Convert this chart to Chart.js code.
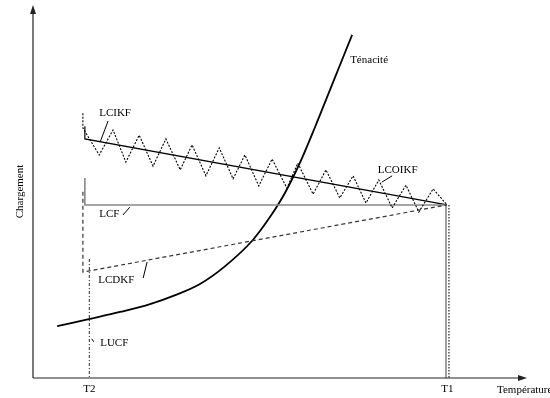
<!DOCTYPE html>
<html>
<head>
<meta charset="utf-8">
<script src="https://cdn.jsdelivr.net/npm/chart.js@4"></script>
<style>
  html, body { margin: 0; padding: 0; background: #fff; }
  #wrap { width: 550px; height: 398px; }
</style>
</head>
<body>
<div id="wrap"><canvas id="chart"></canvas></div>
<script>
// tick positions on the temperature axis
const tickValues = [11.4, 83.9];
const tickLabels = ['T2', 'T1'];

// Ténacité curve
const tenaciteX = [4.9, 11.3, 17.6, 23.7, 28.8, 33.8, 38.9, 44.5, 48.0, 51.0, 54.0, 57.1, 60.1, 64.6];
const tenaciteY = [13.9, 15.8, 17.7, 19.8, 22.2, 25.2, 30.0, 37.0, 43.2, 49.6, 57.6, 67.3, 77.2, 92.0];

// LCIKF (solid trend)
const lcikfX = [10.5, 10.5, 83.8];
const lcikfY = [67.5, 64.1, 46.4];

// LCOIKF (dotted zigzag)
const lcoikfX = [10.1, 10.1, 13.4, 16.2, 18.8, 21.5, 24.3, 26.9, 29.8, 32.2, 35.0, 37.7, 40.5, 42.9,
                 45.7, 48.4, 51.4, 53.6, 56.7, 59.3, 62.1, 64.8, 67.4, 70.0, 72.7, 75.5, 78.1, 81.0, 83.8];
const lcoikfY = [71.0, 67.0, 59.8, 66.5, 57.9, 65.1, 56.8, 64.1, 55.8, 62.5, 54.2, 61.7, 53.4, 59.8,
                 51.5, 58.7, 50.9, 57.6, 49.3, 55.8, 48.3, 54.2, 46.9, 53.1, 45.6, 51.7, 44.5, 50.7, 46.4];

// LCF (grey solid, drops at T1)
const lcfX = [10.5, 10.5, 83.6, 83.6];
const lcfY = [53.6, 46.4, 46.4, 0];

// LCDKF (dashed)
const lcdkfX = [10.1, 10.1, 83.8];
const lcdkfY = [49.9, 28.4, 46.4];

// dotted drop at T1
const dropX = [84.2, 84.2];
const dropY = [46.4, 0];

// LUCF (dash-dot at T2)
const lucfX = [11.4, 11.4];
const lucfY = [31.9, 0];

// text labels and their leader lines (data units)
const notes = [
  { text: 'LCIKF', x: 13.4, y: 70.2, from: [15.2, 68.9], to: [13.6, 63.3] },
  { text: 'LCOIKF', x: 69.8, y: 55.0, from: [72.7, 54.2], to: [70.6, 52.5] },
  { text: 'LCF', x: 13.4, y: 43.2, from: [18.2, 43.7], to: [19.6, 45.8] },
  { text: 'LCDKF', x: 13.2, y: 25.5, from: [22.3, 26.8], to: [23.1, 31.1] },
  { text: 'LUCF', x: 13.6, y: 8.6, from: [11.9, 10.5], to: [12.3, 9.7] },
  { text: 'Ténacité', x: 64.2, y: 84.5 }
];

const pts = (xs, ys) => xs.map((x, i) => ({ x: x, y: ys[i] }));
const FONT = '"Liberation Serif", "DejaVu Serif", serif';

const line = (label, xs, ys, color, width, dash, extra) => Object.assign({
  label: label,
  data: pts(xs, ys),
  borderColor: color,
  borderWidth: width,
  borderDash: dash,
  pointRadius: 0,
  fill: false,
  tension: 0
}, extra || {});

const decorations = {
  id: 'decorations',
  afterDatasetsDraw(chart) {
    const ctx = chart.ctx;
    const a = chart.chartArea;
    const xs = chart.scales.x, ys = chart.scales.y;
    ctx.save();
    // axes with arrows
    ctx.strokeStyle = '#222';
    ctx.fillStyle = '#222';
    ctx.lineWidth = 1.2;
    ctx.beginPath();
    ctx.moveTo(a.left, a.bottom);
    ctx.lineTo(a.left, a.top + 6);
    ctx.moveTo(a.left, a.bottom);
    ctx.lineTo(a.right - 6, a.bottom);
    ctx.stroke();
    ctx.beginPath();
    ctx.moveTo(a.left, a.top);
    ctx.lineTo(a.left - 3, a.top + 9);
    ctx.lineTo(a.left + 3, a.top + 9);
    ctx.closePath();
    ctx.fill();
    ctx.beginPath();
    ctx.moveTo(a.right, a.bottom);
    ctx.lineTo(a.right - 9, a.bottom - 3);
    ctx.lineTo(a.right - 9, a.bottom + 3);
    ctx.closePath();
    ctx.fill();

    // notes
    ctx.font = '11px ' + FONT;
    ctx.fillStyle = '#000';
    ctx.textBaseline = 'alphabetic';
    ctx.textAlign = 'left';
    ctx.lineWidth = 1;
    ctx.strokeStyle = '#000';
    notes.forEach(n => {
      ctx.fillText(n.text, xs.getPixelForValue(n.x), ys.getPixelForValue(n.y));
      if (n.from) {
        ctx.beginPath();
        ctx.moveTo(xs.getPixelForValue(n.from[0]), ys.getPixelForValue(n.from[1]));
        ctx.lineTo(xs.getPixelForValue(n.to[0]), ys.getPixelForValue(n.to[1]));
        ctx.stroke();
      }
    });

    // axis title on the right
    ctx.textBaseline = 'middle';
    ctx.fillText('Température', a.right - 30, a.bottom + 12);
    ctx.restore();
  }
};

new Chart(document.getElementById('chart').getContext('2d'), {
  type: 'line',
  data: {
    datasets: [
      line('LCOIKF', lcoikfX, lcoikfY, '#000', 1.1, [2, 1.5]),
      line('LCDKF', lcdkfX, lcdkfY, '#333', 1.2, [4, 3]),
      line('LCF', lcfX, lcfY, '#888', 1.6, []),
      line('T1', dropX, dropY, '#222', 1.2, [1.5, 1.5]),
      line('LUCF', lucfX, lucfY, '#222', 1, [3, 2, 1, 2]),
      line('LCIKF', lcikfX, lcikfY, '#000', 1.2, []),
      line('Ténacité', tenaciteX, tenaciteY, '#000', 1.8, [], { cubicInterpolationMode: 'monotone' })
    ]
  },
  options: {
    responsive: true,
    maintainAspectRatio: false,
    animation: false,
    layout: { padding: { left: 12, right: 23, top: 5, bottom: 2 } },
    plugins: {
      legend: { display: false },
      tooltip: { enabled: false }
    },
    scales: {
      x: {
        type: 'linear',
        min: 0,
        max: 100,
        grid: { display: false, drawTicks: false },
        border: { display: false },
        afterBuildTicks: axis => { axis.ticks = tickValues.map(v => ({ value: v })); },
        afterFit: axis => { axis.height = 18; },
        ticks: {
          padding: 5,
          color: '#000',
          font: { family: FONT, size: 11 },
          maxRotation: 0,
          autoSkip: false,
          callback: (v, i) => tickLabels[i]
        }
      },
      y: {
        type: 'linear',
        min: 0,
        max: 100,
        grid: { display: false, drawTicks: false },
        border: { display: false },
        ticks: { display: false },
        afterFit: axis => { axis.width = 21; },
        title: {
          display: true,
          text: 'Chargement',
          color: '#000',
          font: { family: FONT, size: 11 },
          padding: { top: 2, bottom: 4 }
        }
      }
    }
  },
  plugins: [decorations]
});
</script>
</body>
</html>
